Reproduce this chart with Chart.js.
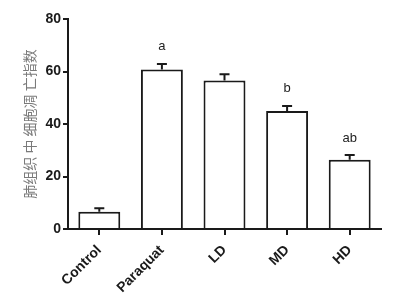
<!DOCTYPE html>
<html>
<head>
<meta charset="utf-8">
<script src="https://cdn.jsdelivr.net/npm/chart.js@4"></script>
<style>
  html, body { margin: 0; padding: 0; background: #fff; }
  #wrap { width: 398px; height: 302px; position: relative; }
</style>
</head>
<body>
<div id="wrap"><canvas id="bars"></canvas></div>
<script>
var groups = ['Control', 'Paraquat', 'LD', 'MD', 'HD'];
var means = [6.6, 60.8, 56.6, 45.0, 26.4];
var errors = [1.3, 2.1, 2.4, 1.9, 1.8];
var marks = ['', 'a', '', 'b', 'ab'];
var yTicks = [0, 20, 40, 60, 80];
var yTitle = '肺组织 中 细胞凋 亡指数';

var ink = '#1a1a1a';

// upper error bars + significance letters, drawn through the scales
var errorBars = {
  id: 'errorBars',
  afterDatasetsDraw: function (chart) {
    var ctx = chart.ctx;
    var x = chart.scales.x;
    var y = chart.scales.y;
    ctx.save();
    ctx.strokeStyle = ink;
    ctx.lineWidth = 2;
    means.forEach(function (m, i) {
      var cx = x.getPixelForValue(i);
      var top = y.getPixelForValue(m + errors[i]);
      var base = y.getPixelForValue(m);
      ctx.beginPath();
      ctx.moveTo(cx, base);
      ctx.lineTo(cx, top);
      ctx.moveTo(cx - 5, top);
      ctx.lineTo(cx + 5, top);
      ctx.stroke();
      if (marks[i]) {
        ctx.fillStyle = '#222';
        ctx.font = '13px "Liberation Sans", Arial, sans-serif';
        ctx.textAlign = 'center';
        ctx.textBaseline = 'middle';
        ctx.fillText(marks[i], cx, top - 17);
      }
    });
    ctx.restore();
  }
};

new Chart(document.getElementById('bars'), {
  type: 'bar',
  data: {
    labels: groups,
    datasets: [{
      data: means,
      backgroundColor: '#ffffff',
      borderColor: ink,
      borderWidth: 2,
      categoryPercentage: 1,
      barPercentage: 0.67
    }]
  },
  options: {
    responsive: true,
    maintainAspectRatio: false,
    animation: false,
    layout: { padding: { top: 19, right: 17, left: 0, bottom: 0 }, autoPadding: false },
    plugins: { legend: { display: false }, tooltip: { enabled: false } },
    scales: {
      x: {
        grid: { display: true, drawOnChartArea: false, offset: false, color: ink, lineWidth: 2, tickLength: 6 },
        border: { display: true, color: ink, width: 2 },
        ticks: {
          color: ink,
          minRotation: 45,
          maxRotation: 45,
          padding: 7,
          font: { family: '"Liberation Sans", Arial, sans-serif', size: 14, weight: 'bold' }
        },
        afterFit: function (axis) { axis.height = 73; }
      },
      y: {
        min: 0,
        max: 80,
        afterBuildTicks: function (axis) {
          axis.ticks = yTicks.map(function (v) { return { value: v }; });
        },
        grid: { display: true, drawOnChartArea: false, color: ink, lineWidth: 2, tickLength: 5 },
        border: { display: true, color: ink, width: 2 },
        ticks: {
          color: ink,
          padding: 2,
          font: { family: '"Liberation Sans", Arial, sans-serif', size: 14, weight: 'bold' }
        },
        title: {
          display: true,
          text: yTitle,
          color: '#7a7a7a',
          padding: { top: 21, bottom: 0 },
          font: { family: '"Noto Sans CJK SC", sans-serif', size: 14 }
        },
        afterFit: function (axis) { axis.width = 68; }
      }
    }
  },
  plugins: [errorBars]
});
</script>
</body>
</html>
